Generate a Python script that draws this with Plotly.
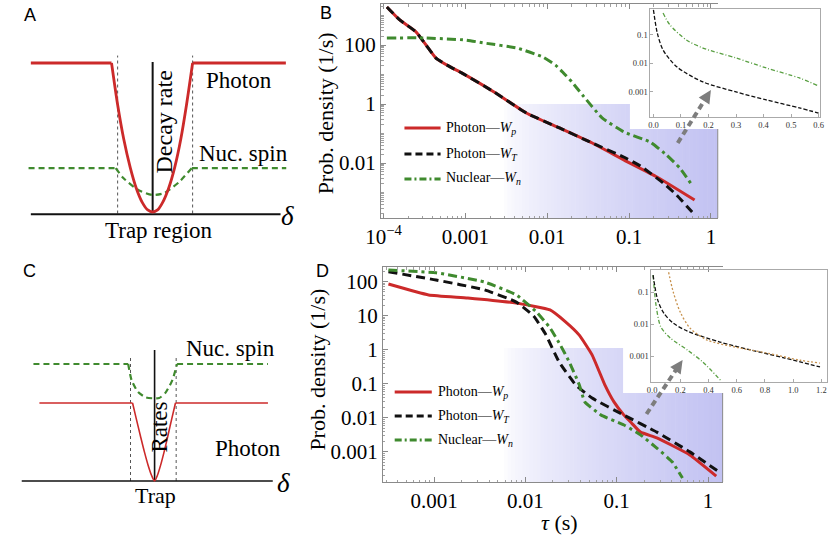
import math
import plotly.graph_objects as go

W, H = 834, 536
SERIF = "Liberation Serif"
SANS = "Liberation Sans"

RED = "#cc2a2a"
BLACK = "#111111"
GREEN = "#3f8a2e"
GREEN_L = "#5aa043"
ORANGE = "#c8924e"

# ---------------- Panel A (schematic) ----------------
a_photon_flat_d = [-3.2, -1.08, None, 1.05, 3.5]
a_photon_flat_r = [1, 1, None, 1, 1]
a_photon_well_d = [-1.08, -0.92, -0.76, -0.59, -0.43, -0.27, -0.13, 0, 0.13, 0.26, 0.42, 0.58, 0.74, 0.89, 1.05]
a_photon_well_r = [1, 0.72, 0.49, 0.30, 0.16, 0.063, 0.014, 0, 0.014, 0.063, 0.16, 0.30, 0.49, 0.72, 1]
a_nuc_flat_d = [-3.26, -0.97, None, 1.03, 3.51]
a_nuc_flat_r = [0.295, 0.295, None, 0.295, 0.295]
a_nuc_dip_d = [-0.97, -0.77, -0.38, 0, 0.31, 0.69, 1.03]
a_nuc_dip_r = [0.295, 0.228, 0.148, 0.114, 0.128, 0.2, 0.295]
a_trap_edges = [-0.92, 1.05]

# ---------------- Panel C (schematic) ----------------
c_photon_flat_d = [-5.02, -0.96, None, 0.91, 4.94]
c_photon_flat_r = [1, 1, None, 1, 1]
c_photon_well_d = [-0.96, -0.8, -0.62, -0.45, -0.28, -0.13, 0, 0.12, 0.26, 0.42, 0.58, 0.75, 0.91]
c_photon_well_r = [1, 0.80, 0.58, 0.38, 0.2, 0.07, 0, 0.07, 0.2, 0.38, 0.58, 0.80, 1]
c_nuc_flat_d = [-5.28, -1.15, None, 0.98, 4.94]
c_nuc_flat_r = [1.5, 1.5, None, 1.5, 1.5]
c_nuc_dip_d = [-1.15, -1.0, -0.72, -0.37, 0.2, 0.47, 0.77, 0.98]
c_nuc_dip_r = [1.5, 1.29, 1.14, 1.07, 1.064, 1.13, 1.29, 1.5]
c_trap_edges = [-1.05, 0.94]

# ---------------- Panel B ----------------
b_tau_p = [1.10e-4, 1.58e-4, 2.51e-4, 3.31e-4, 4.37e-4, 6.61e-4, 9.12e-4, 2.24e-3, 5.62e-3,
           0.0141, 0.0355, 0.0871, 0.219, 0.631]
b_photon_p = [1950, 708, 275, 100, 36.3, 17.8, 11.2, 2.57, 0.49, 0.155, 0.0479, 0.0126,
              0.00339, 0.000562]
b_tau_T = [1.10e-4, 1.58e-4, 2.51e-4, 3.31e-4, 4.37e-4, 6.61e-4, 9.12e-4, 2.24e-3, 5.62e-3,
           0.0141, 0.0355, 0.0871, 0.138, 0.263, 0.380, 0.589]
b_photon_T = [1950, 708, 275, 100, 36.3, 17.8, 11.2, 2.57, 0.49, 0.155, 0.0479, 0.0158,
              0.00794, 0.00209, 0.000832, 0.000219]
b_tau_n = [1.10e-4, 3.16e-4, 1.00e-3, 1.70e-3, 4.27e-3, 8.91e-3, 0.0126, 0.0155, 0.0200,
           0.0269, 0.0468, 0.0871, 0.182, 0.288, 0.417, 0.589]
b_nuclear = [174, 174, 148, 117, 79.4, 38.9, 20.9, 12.0, 5.62, 2.04, 0.339, 0.112, 0.0513,
             0.0186, 0.00676, 0.00178]

# Panel B inset
bi_t_T = [0.0, 0.014, 0.035, 0.085, 0.18, 0.30, 0.41, 0.53, 0.60]
bi_T = [0.759, 0.117, 0.0295, 0.00759, 0.00224, 0.001, 0.000525, 0.000275, 0.000182]
bi_t_n = [0.035, 0.06, 0.12, 0.18, 0.30, 0.41, 0.53, 0.60]
bi_n = [0.589, 0.224, 0.0661, 0.0347, 0.0155, 0.00692, 0.00309, 0.00162]

# ---------------- Panel D ----------------
d_tau_p = [3.16e-4, 8.71e-4, 2.34e-3, 7.94e-3, 0.0186, 0.0275, 0.0389, 0.0537, 0.0741, 0.0933,
           0.120, 0.145, 0.182, 0.275, 0.631, 1.23]
d_photon_p = [85.1, 40.7, 33.1, 23.4, 14.8, 6.61, 2.69, 0.708, 0.0933, 0.0295, 0.0120, 0.00708,
              0.00380, 0.00257, 0.000813, 0.000195]
d_tau_T = [3.16e-4, 1.05e-3, 3.55e-3, 7.94e-3, 0.0123, 0.0166, 0.0234, 0.0355, 0.0537, 0.120,
           0.275, 0.631, 1.32]
d_photon_T = [195, 112, 57.5, 25.1, 9.77, 2.88, 0.437, 0.0933, 0.0380, 0.0120, 0.00380,
              0.00100, 0.000257]
d_tau_n = [3.16e-4, 1.05e-3, 3.55e-3, 7.94e-3, 0.0132, 0.0186, 0.0240, 0.0302, 0.0389, 0.0447,
           0.0676, 0.120, 0.182, 0.275, 0.407, 0.525]
d_nuclear = [219, 182, 97.7, 40.7, 12.9, 4.37, 1.41, 0.437, 0.0933, 0.0295, 0.0120, 0.00617,
             0.00316, 0.00129, 0.000501, 0.000170]

# Panel D inset
di_t_n = [0.007, 0.028, 0.062, 0.13, 0.25, 0.36, 0.49]
di_n = [0.339, 0.0389, 0.00813, 0.00363, 0.00155, 0.000646, 0.000166]
di_t_T = [0.007, 0.04, 0.083, 0.15, 0.25, 0.48, 0.70, 0.94, 1.19]
di_T = [0.339, 0.0562, 0.0219, 0.0107, 0.00603, 0.00275, 0.00155, 0.000871, 0.000457]
di_t_o = [0.117, 0.15, 0.20, 0.27, 0.39, 0.59, 0.82, 1.05, 1.19]
di_o = [0.417, 0.1, 0.0234, 0.00741, 0.00316, 0.00191, 0.00123, 0.000741, 0.000603]

# tick labels
b_xticks = [1e-4, 1e-3, 1e-2, 1e-1, 1]
b_xtext = ["10<sup>\u22124</sup>", "0.001", "0.01", "0.1", "1"]
b_yticks = [1e-2, 1, 100]
b_ytext = ["0.01", "1", "100"]
d_xticks = [1e-3, 1e-2, 1e-1, 1]
d_xtext = ["0.001", "0.01", "0.1", "1"]
d_yticks = [1e-3, 1e-2, 1e-1, 1, 10, 100]
d_ytext = ["0.001", "0.01", "0.1", "1", "10", "100"]
bi_xticks = [0, 0.1, 0.2, 0.3, 0.4, 0.5, 0.6]
bi_xtext = ["0.0", "0.1", "0.2", "0.3", "0.4", "0.5", "0.6"]
di_xticks = [0, 0.2, 0.4, 0.6, 0.8, 1.0, 1.2]
di_xtext = ["0.0", "0.2", "0.4", "0.6", "0.8", "1.0", "1.2"]
i_yticks = [0.001, 0.01, 0.1]
i_ytext = ["0.001", "0.01", "0.1"]


def PX(x):
    return x / W


def PY(y):
    return 1 - y / H


fig = go.Figure()

DASH_K = "9px,5px"
DASH_G = "9px,4px,3px,4px"


def line(x, y, xa, ya, color, width, dash="solid", shape="linear", smooth=1.0):
    ln = dict(color=color, width=width, dash=dash, shape=shape)
    if shape == "spline":
        ln["smoothing"] = smooth
    fig.add_trace(go.Scatter(x=x, y=y, mode="lines", line=ln, xaxis=xa, yaxis=ya,
                             showlegend=False, hoverinfo="skip"))


# ---- Panel A traces ----
for d in a_trap_edges:
    line([d, d], [-0.01, 1.05], "x5", "y5", "#555555", 1, "dot")
line([-3.2, 3.36], [-0.015, -0.015], "x5", "y5", BLACK, 2)
line([0, 0], [0, 1.007], "x5", "y5", BLACK, 2)
line(a_nuc_flat_d, a_nuc_flat_r, "x5", "y5", GREEN, 2.2, "6px,4px")
line(a_nuc_dip_d, a_nuc_dip_r, "x5", "y5", GREEN, 2.2, "6px,4px", "spline", 0.6)
line(a_photon_flat_d, a_photon_flat_r, "x5", "y5", RED, 2.8)
line(a_photon_well_d, a_photon_well_r, "x5", "y5", RED, 2.8, "solid", "spline", 0.8)

# ---- Panel C traces ----
for d in c_trap_edges:
    line([d, d], [0, 1.59], "x6", "y6", "#555555", 1, "dot")
line([-5.79, 5.15], [0, 0], "x6", "y6", BLACK, 1.6)
line([0, 0], [0, 1.68], "x6", "y6", BLACK, 1.6)
line(c_nuc_flat_d, c_nuc_flat_r, "x6", "y6", GREEN, 2.2, "6px,4px")
line(c_nuc_dip_d, c_nuc_dip_r, "x6", "y6", GREEN, 2.2, "6px,4px", "spline", 0.6)
line(c_photon_flat_d, c_photon_flat_r, "x6", "y6", RED, 1.6)
line(c_photon_well_d, c_photon_well_r, "x6", "y6", RED, 1.6, "solid", "spline", 0.8)

# ---- Panel B traces ----
line(b_tau_p, b_photon_p, "x", "y", RED, 3, "solid", "spline", 0.4)
line(b_tau_T, b_photon_T, "x", "y", BLACK, 3, DASH_K, "spline", 0.4)
line(b_tau_n, b_nuclear, "x", "y", GREEN, 3, DASH_G, "spline", 0.4)
# inset
line(bi_t_T, bi_T, "x2", "y2", BLACK, 1.3, "4px,2px", "spline", 0.8)
line(bi_t_n, bi_n, "x2", "y2", GREEN_L, 1.3, "4px,2px,1px,2px", "spline", 0.8)

# ---- Panel D traces ----
line(d_tau_p, d_photon_p, "x3", "y3", RED, 3, "solid", "spline", 0.4)
line(d_tau_T, d_photon_T, "x3", "y3", BLACK, 3, DASH_K, "spline", 0.4)
line(d_tau_n, d_nuclear, "x3", "y3", GREEN, 3, DASH_G, "spline", 0.4)
# inset
line(di_t_n, di_n, "x4", "y4", GREEN_L, 1.3, "4px,2px,1px,2px", "spline", 0.8)
line(di_t_T, di_T, "x4", "y4", BLACK, 1.3, "4px,2px", "spline", 0.8)
line(di_t_o, di_o, "x4", "y4", ORANGE, 1.3, "2px,2px", "spline", 0.8)

# ---------------- shapes (decorations) ----------------
shapes = []


def gradient(x0, x1, y0, y1, n=60, end=(194, 194, 242)):
    for i in range(n):
        a = x0 + (x1 - x0) * i / n
        b = x0 + (x1 - x0) * (i + 1) / n + 0.6
        f = ((i + 0.5) / n) ** 0.65
        c = tuple(round(255 * (1 - f) + e * f) for e in end)
        shapes.append(dict(type="rect", xref="paper", yref="paper", x0=PX(a), x1=PX(min(b, x1)),
                           y0=PY(y1), y1=PY(y0), fillcolor="rgb(%d,%d,%d)" % c,
                           line=dict(width=0), layer="below"))


gradient(500, 719, 104, 218)
gradient(500, 724, 348, 482)


def white(x0, x1, y0, y1):
    shapes.append(dict(type="rect", xref="paper", yref="paper", x0=PX(x0), x1=PX(x1),
                       y0=PY(y1), y1=PY(y0), fillcolor="white", line=dict(width=0),
                       layer="below"))


white(629, 834, 7, 129)
white(622, 834, 269, 393)

FRAME = "#8a8a8a"
shapes.append(dict(type="line", xref="paper", yref="paper", x0=PX(719), x1=PX(719),
                   y0=PY(129), y1=PY(218), line=dict(color=FRAME, width=1)))
shapes.append(dict(type="line", xref="paper", yref="paper", x0=PX(724), x1=PX(724),
                   y0=PY(393), y1=PY(482), line=dict(color=FRAME, width=1)))


def arrow(tail, tip):
    dx, dy = tip[0] - tail[0], tip[1] - tail[1]
    L = math.hypot(dx, dy)
    ux, uy = dx / L, dy / L
    nx, ny = -uy, ux
    hl, hw = 13, 6.5
    bx, by = tip[0] - hl * ux, tip[1] - hl * uy
    shapes.append(dict(type="line", xref="paper", yref="paper", x0=PX(tail[0]), y0=PY(tail[1]),
                       x1=PX(bx + 2 * ux), y1=PY(by + 2 * uy),
                       line=dict(color="#7d7d7d", width=4, dash="6px,4px")))
    p = "M %f,%f L %f,%f L %f,%f Z" % (PX(tip[0]), PY(tip[1]), PX(bx + hw * nx), PY(by + hw * ny),
                                       PX(bx - hw * nx), PY(by - hw * ny))
    shapes.append(dict(type="path", xref="paper", yref="paper", path=p, fillcolor="#7d7d7d",
                       line=dict(width=0)))


arrow((678, 143), (712, 90))
arrow((646, 414), (683, 360))

annotations = []


def text(x, y, s, size, family=SERIF, angle=0, xanchor="center", italic=False, ref=("paper", "paper")):
    if italic:
        s = "<i>" + s + "</i>"
    annotations.append(dict(x=x, y=y, xref=ref[0], yref=ref[1], text=s, showarrow=False,
                            font=dict(family=family, size=size, color="black"),
                            textangle=angle, xanchor=xanchor, yanchor="middle"))


def legend(x0, x1, xt, rows):
    for (y, color, dash, label) in rows:
        shapes.append(dict(type="line", xref="paper", yref="paper", x0=PX(x0), x1=PX(x1),
                           y0=PY(y), y1=PY(y), line=dict(color=color, width=3, dash=dash)))
        text(PX(xt), PY(y), label, 14, xanchor="left")


lab_p = "Photon\u2014<i>W</i><sub><i>p</i></sub>"
lab_T = "Photon\u2014<i>W</i><sub><i>T</i></sub>"
lab_n = "Nuclear\u2014<i>W</i><sub><i>n</i></sub>"
legend(398, 435, 439, [(128, RED, "solid", lab_p), (154, BLACK, "7px,4px", lab_T),
                       (179, GREEN, "7px,3px,2px,3px", lab_n)])
legend(388, 426, 430, [(392, RED, "solid", lab_p), (416, BLACK, "7px,4px", lab_T),
                       (440, GREEN, "7px,3px,2px,3px", lab_n)])

# panel letters
text(PX(14), PY(15), "A", 18, SANS)
text(PX(318), PY(13), "B", 18, SANS)
text(PX(14), PY(271), "C", 18, SANS)
text(PX(314), PY(271), "D", 18, SANS)

# axis titles
text(PX(318), PY(113), "Prob. density (1/s)", 22, angle=-90)
text(PX(308), PY(370), "Prob. density (1/s)", 22, angle=-90)
text(PX(557), PY(522), "<i>\u03c4</i> (s)", 22)

A = ("x5", "y5")
C = ("x6", "y6")
text(2.28, 0.886, "Photon", 23, ref=A)
text(2.38, 0.396, "Nuc. spin", 23, ref=A)
text(0.31, 0.604, "Decay rate", 24, angle=-90, ref=A)
text(0.18, -0.121, "Trap region", 23, ref=A)
text(3.55, -0.03, "\u03b4", 27, italic=True, ref=A)

text(3.32, 1.705, "Nuc. spin", 23, ref=C)
text(0.21, 0.69, "Rates", 23, angle=-90, ref=C)
text(4.09, 0.42, "Photon", 23, ref=C)
text(0.04, -0.18, "Trap", 22, ref=C)
text(5.62, -0.03, "\u03b4", 27, italic=True, ref=C)

TICKFONT = dict(family=SERIF, size=21, color="black")
INSETFONT = dict(family=SERIF, size=8.5, color="#333333")


def minor_vals(e0, e1, with_decades=()):
    vals = [m * 10.0 ** e for e in range(e0, e1) for m in range(2, 10)]
    return sorted(vals + list(with_decades))


def main_axis(domain, rng, tv, tt, minors, mirror="ticks"):
    return dict(domain=domain, type="log", range=rng, tickvals=tv,
                ticktext=tt, ticks="inside", ticklen=5, tickcolor=FRAME, showline=True,
                linecolor=FRAME, linewidth=1, mirror=mirror, showgrid=False, zeroline=False,
                tickfont=TICKFONT, fixedrange=True,
                minor=dict(tickvals=minors, ticks="inside", ticklen=2.5, tickcolor="#a0a0a0",
                           showgrid=False))


def inset_axis(domain, rng, tv, tt, log):
    return dict(domain=domain, type="log" if log else "linear", range=rng, tickvals=tv,
                ticktext=tt, ticks="inside", ticklen=3, tickcolor="#aaaaaa", showline=True,
                linecolor="#aaaaaa", linewidth=1, mirror=True, showgrid=False, zeroline=False,
                tickfont=INSETFONT, fixedrange=True)


hidden = dict(visible=False, showgrid=False, zeroline=False, fixedrange=True)

fig.update_layout(
    width=W, height=H, autosize=False,
    margin=dict(l=0, r=0, t=0, b=0, pad=0),
    paper_bgcolor="white", plot_bgcolor="rgba(0,0,0,0)",
    showlegend=False,
    xaxis=main_axis([PX(374), PX(719)], [-4.03, 0.083], b_xticks, b_xtext, minor_vals(-4, 1)),
    yaxis=main_axis([PY(218), PY(4)], [-3.86, 3.39], b_yticks, b_ytext,
                    minor_vals(-4, 4, (1e-3, 0.1, 10, 1000)), mirror=False),
    xaxis2=dict(inset_axis([PX(650), PX(824)], [-0.011, 0.606], bi_xticks, bi_xtext, False), anchor="y2"),
    yaxis2=dict(inset_axis([PY(117), PY(9)], [-3.88, -0.09], i_yticks, i_ytext, True), anchor="x2"),
    xaxis3=dict(main_axis([PX(376), PX(724)], [-3.56, 0.16], d_xticks, d_xtext, minor_vals(-4, 1)), anchor="y3"),
    yaxis3=dict(main_axis([PY(482), PY(267)], [-3.885, 2.43], d_yticks, d_ytext,
                          minor_vals(-4, 3), mirror=False), anchor="x3"),
    xaxis4=dict(inset_axis([PX(651), PX(831)], [-0.005, 1.24], di_xticks, di_xtext, False), anchor="y4"),
    yaxis4=dict(inset_axis([PY(382), PY(270)], [-3.81, -0.31], i_yticks, i_ytext, True), anchor="x4"),
    xaxis5=dict(hidden, domain=[0, PX(280)], range=[-3.59, 3.59], anchor="y5"),
    yaxis5=dict(hidden, domain=[PY(250), 1], range=[-0.255, 1.423], anchor="x5"),
    xaxis6=dict(hidden, domain=[0, PX(280)], range=[-6.04, 5.87], anchor="y6"),
    yaxis6=dict(hidden, domain=[0, PY(260)], range=[-0.705, 2.833], anchor="x6"),
    shapes=shapes,
    annotations=annotations,
)

fig.write_html("out.html")
